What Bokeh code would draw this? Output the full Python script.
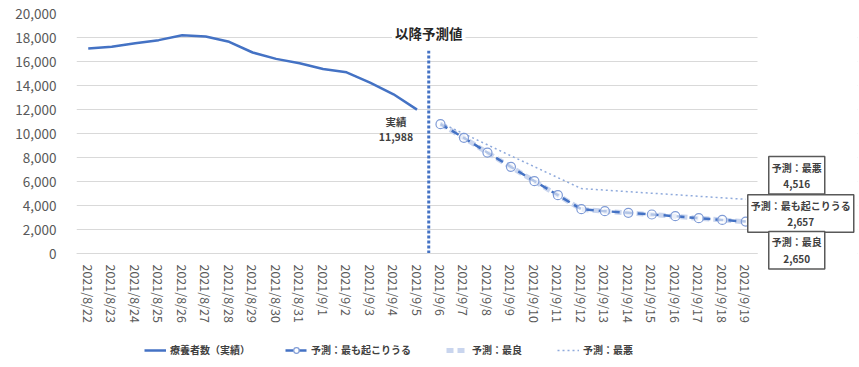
import math
from bokeh.plotting import figure
from bokeh.models import (Label, Legend, LegendItem, Range1d, BoxAnnotation,
                          FixedTicker, NumeralTickFormatter)
from bokeh.embed import file_html
from bokeh.resources import INLINE

FONT = "Noto Sans CJK JP"

dates_actual = ["2021/8/22", "2021/8/23", "2021/8/24", "2021/8/25", "2021/8/26",
                "2021/8/27", "2021/8/28", "2021/8/29", "2021/8/30", "2021/8/31",
                "2021/9/1", "2021/9/2", "2021/9/3", "2021/9/4", "2021/9/5"]
dates_pred = ["2021/9/6", "2021/9/7", "2021/9/8", "2021/9/9", "2021/9/10",
              "2021/9/11", "2021/9/12", "2021/9/13", "2021/9/14", "2021/9/15",
              "2021/9/16", "2021/9/17", "2021/9/18", "2021/9/19"]

actual = [17080, 17220, 17520, 17780, 18180, 18080, 17640, 16750, 16220, 15850,
          15380, 15100, 14240, 13270, 11988]
likely = [10780, 9640, 8410, 7220, 6030, 4860, 3690, 3530, 3390, 3250, 3110, 2940, 2800, 2657]
best = [10780, 9630, 8400, 7210, 6020, 4850, 3680, 3520, 3380, 3240, 3100, 2935, 2795, 2650]
worst = [10900, 9980, 9060, 8140, 7230, 6320, 5410, 5280, 5150, 5020, 4900, 4770, 4640, 4516]

y_ticks = [0, 2000, 4000, 6000, 8000, 10000, 12000, 14000, 16000, 18000, 20000]

BLUE = "#4472C4"

all_dates = dates_actual + dates_pred
n_all = len(all_dates)
x_actual = list(range(len(dates_actual)))
x_pred = list(range(len(dates_actual), n_all))

# layout in pixels: the frame spans the whole area right of the y axis and
# below the top border; the value axis occupies the upper part of it
W, H = 859, 367
B_LEFT, B_RIGHT, B_TOP = 76, 2, 13
cat_px = 681          # width of the category area
val_px = 240          # height of the 0..20000 area
y_top = y_ticks[-1]
frame_w = W - B_LEFT - B_RIGHT
frame_h = H - B_TOP
x_end = -0.5 + n_all * frame_w / cat_px
y_start = -y_top * (frame_h - val_px) / val_px

p = figure(width=W, height=H, output_backend="svg", toolbar_location=None,
           x_range=Range1d(-0.5, x_end), y_range=Range1d(y_start, y_top),
           min_border_left=B_LEFT, min_border_right=B_RIGHT, min_border_top=B_TOP,
           min_border_bottom=0)
p.outline_line_color = None
p.background_fill_color = "white"

p.yaxis.ticker = FixedTicker(ticks=y_ticks, minor_ticks=[])
p.yaxis.formatter = NumeralTickFormatter(format="0,0")
p.yaxis.axis_line_color = None
p.yaxis.major_tick_line_color = None
p.yaxis.minor_tick_line_color = None
p.yaxis.major_label_text_font = FONT
p.yaxis.major_label_text_font_size = "13.5px"
p.yaxis.major_label_text_color = "#595959"
p.yaxis.major_label_standoff = 14

p.xaxis.fixed_location = 0
p.xaxis.ticker = FixedTicker(ticks=list(range(n_all)), minor_ticks=[])
p.xaxis.major_label_overrides = {i: d for i, d in enumerate(all_dates)}
p.xaxis.bounds = (-0.5, n_all - 0.5)
p.xaxis.axis_line_color = "#D9D9D9"
p.xaxis.major_tick_line_color = None
p.xaxis.minor_tick_line_color = None
p.xaxis.major_label_orientation = -math.pi / 2
p.xaxis.major_label_text_font = FONT
p.xaxis.major_label_text_font_size = "12.5px"
p.xaxis.major_label_text_color = "#595959"
p.xaxis.major_label_standoff = 5

p.xgrid.visible = False
p.ygrid.grid_line_color = "#D9D9D9"

# white mask so gridlines stop at the last category (labels area)
p.add_layout(BoxAnnotation(left=n_all - 0.5, fill_color="white", fill_alpha=1,
                           line_alpha=0, level="underlay"))

r_act = p.line(x_actual, actual, line_color=BLUE, line_width=2.5)
r_best = p.line(x_pred, best, line_color="#C9D5EE", line_width=5, line_dash="7 4")
r_worst = p.line(x_pred, worst, line_color="#8FAADC", line_width=1.5, line_dash="2 3")
r_lik = p.line(x_pred, likely, line_color=BLUE, line_width=2.5, line_dash="8 5")
r_likc = p.scatter(x_pred, likely, size=9, marker="circle", line_color="#7F9BD6",
                   line_width=1.2, fill_color="white", fill_alpha=0.6)

split = len(dates_actual) - 0.5

p.segment(x0=[split], x1=[split], y0=[0], y1=[16900], line_color=BLUE,
          line_width=3, line_dash="3 2")

p.add_layout(Label(x=split, y=y_top, y_offset=-19, text="以降予測値",
                   text_font=FONT, text_font_size="13.5px", text_font_style="bold",
                   text_color="#262626", text_align="center", text_baseline="middle",
                   background_fill_color="white", padding=3))

p.add_layout(Label(x=x_actual[-1], y=actual[-1], x_offset=-21, y_offset=-19,
                   text="実績\n" + f"{actual[-1]:,}",
                   text_font=FONT, text_font_size="10.5px", text_font_style="bold",
                   text_color="#404040", text_align="center", text_baseline="middle",
                   text_line_height=1.0))

def box(yval, xo, yo, txt):
    p.add_layout(Label(x=x_pred[-1], y=yval, x_offset=xo, y_offset=yo, text=txt,
                       text_font=FONT, text_font_size="10px", text_font_style="bold",
                       text_color="#404040", text_align="center", text_baseline="middle",
                       text_line_height=1.1, padding=3,
                       background_fill_color="white", border_line_color="#595959",
                       border_line_width=1.5))

box(worst[-1], 51, 24, "予測：最悪\n" + f"{worst[-1]:,}")
box(likely[-1], 55, 8, "予測：最も起こりうる\n" + f"{likely[-1]:,}")
box(best[-1], 51, -28.5, "予測：最良\n" + f"{best[-1]:,}")

legend = Legend(items=[
    LegendItem(label="療養者数（実績）", renderers=[r_act]),
    LegendItem(label="予測：最も起こりうる", renderers=[r_lik, r_likc]),
    LegendItem(label="予測：最良", renderers=[r_best]),
    LegendItem(label="予測：最悪", renderers=[r_worst]),
], orientation="horizontal", location=(68, 10))
legend.label_text_font = FONT
legend.label_text_font_size = "10px"
legend.label_text_font_style = "bold"
legend.label_text_color = "#404040"
legend.glyph_width = 22
legend.glyph_height = 14
legend.label_height = 14
legend.label_standoff = 4
legend.spacing = 35
legend.padding = 0
legend.margin = 0
legend.border_line_color = None
legend.background_fill_alpha = 0
p.add_layout(legend)

open("out.html", "w").write(file_html(p, INLINE))
